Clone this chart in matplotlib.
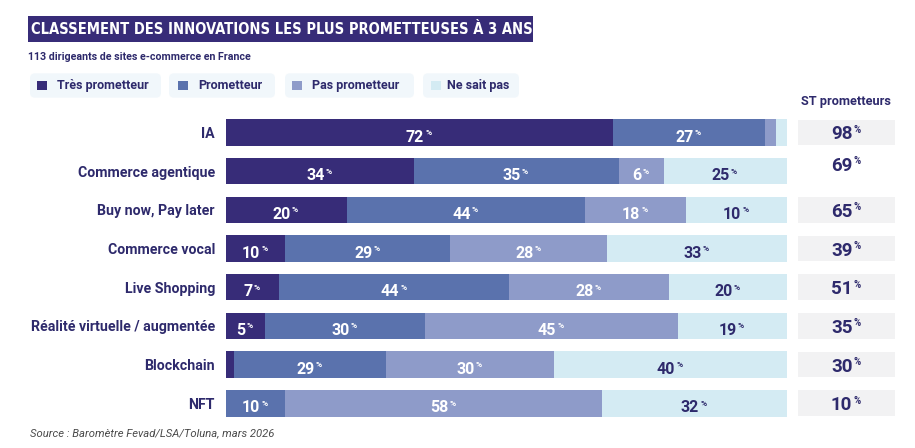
import matplotlib.pyplot as plt
from matplotlib import font_manager
from matplotlib.font_manager import FontProperties
from matplotlib.patches import FancyBboxPatch, Rectangle

W, H = 915, 448

categories = ["IA", "Commerce agentique", "Buy now, Pay later", "Commerce vocal",
              "Live Shopping", "Réalité virtuelle / augmentée", "Blockchain", "NFT"]
# segment lengths as drawn in the source (% of the bar)
tres_prometteur = [69, 33.5, 21.5, 10.5, 9.5, 7, 1.5, 0]
prometteur = [27, 36.5, 42.5, 29.5, 41, 28.5, 27, 10.5]
pas_prometteur = [2, 8, 18, 28, 28.5, 45, 30, 56.5]
ne_sait_pas = [2, 22, 18, 32, 21, 19.5, 41.5, 33]
# printed labels
tres_lbl = ["72", "34", "20", "10", "7", "5", "", ""]
prom_lbl = ["27", "35", "44", "29", "44", "30", "29", "10"]
pas_lbl = ["", "6", "18", "28", "28", "45", "30", "58"]
nsp_lbl = ["", "25", "10", "33", "20", "19", "40", "32"]
st_prometteurs = [98, 69, 65, 39, 51, 35, 30, 10]
legend_names = ["Très prometteur", "Prometteur", "Pas prometteur", "Ne sait pas"]

DARK = "#372c78"
MED = "#5a72ad"
LIGHT = "#8e9bc9"
PALE = "#d4ebf3"
NAVY = "#2e2a6c"

plt.rcParams['font.family'] = ['Roboto', 'DejaVu Sans']

# look for a narrow / condensed bold face for the title
title_prop = FontProperties(family='Roboto', weight='bold')
narrow = [f for f in font_manager.fontManager.ttflist
          if ('Narrow' in f.name or 'Condensed' in f.name or f.stretch in ('condensed', 'semi-condensed'))
          and f.weight in ('bold', 700, 'heavy', 800) and f.style == 'normal']
if narrow:
    title_prop = FontProperties(fname=narrow[0].fname)

fig = plt.figure(figsize=(W / 100, H / 100), dpi=100)

# overlay in pixel coordinates for title / legend / notes
ov = fig.add_axes([0, 0, 1, 1], zorder=0)
ov.set_xlim(0, W)
ov.set_ylim(H, 0)
ov.axis('off')

ov.add_patch(Rectangle((28, 15.8), 505, 26.2, color=DARK, lw=0))
title = ov.text(31, 29.5, "CLASSEMENT DES INNOVATIONS LES PLUS PROMETTEUSES À 3 ANS",
                color="white", va='center', ha='left', fontproperties=title_prop)
title.set_fontsize(18)
fig.canvas.draw()
bb = title.get_window_extent()
title.set_fontsize(min(18 * 499 / bb.width, 18))

ov.text(28, 57, "113 dirigeants de sites e-commerce en France", color=NAVY,
        fontsize=7.7, fontweight='bold', va='center', ha='left')

colors = [DARK, MED, LIGHT, PALE]
box_x = [(30, 161), (169, 275), (285, 414), (423, 519)]
sq_x = [37, 178, 292, 431]
txt_x = [56.7, 198.7, 312, 447]
for name, col, (x0, x1), sx, tx in zip(legend_names, colors, box_x, sq_x, txt_x):
    ov.add_patch(FancyBboxPatch((x0, 73.3), x1 - x0, 24.4,
                                boxstyle="round,pad=0,rounding_size=5",
                                fc="#f1f7fb", ec="none"))
    ov.add_patch(Rectangle((sx, 80.7), 9.5, 9.5, color=col, lw=0))
    ov.text(tx, 85.5, name, color=NAVY, fontsize=9, fontweight='bold',
            va='center', ha='left')

ov.text(846, 101, "ST prometteurs", color=NAVY, fontsize=9.2, fontweight='bold',
        va='center', ha='center')
ov.text(30, 433, "Source : Baromètre Fevad/LSA/Toluna, mars 2026", color="#4a4a4a",
        fontsize=8.1, style='italic', va='center', ha='left')

# bar axes
top_px, bot_px = 113.15, 422.65
ax_rect = [226 / W, 1 - bot_px / H, (787 - 226) / W, (bot_px - top_px) / H]
ax = fig.add_axes(ax_rect, zorder=1)
ax.patch.set_visible(False)
n = len(categories)
y = list(range(n))

series = [(tres_prometteur, tres_lbl, DARK, "white"),
          (prometteur, prom_lbl, MED, "white"),
          (pas_prometteur, pas_lbl, LIGHT, "white"),
          (ne_sait_pas, nsp_lbl, PALE, NAVY)]
left = [0] * n
for vals, lbls, col, tcol in series:
    ax.barh(y, vals, left=left, height=0.685, color=col, lw=0)
    for i, (v, l) in enumerate(zip(vals, lbls)):
        if l:
            t = ax.text(left[i] + v / 2 - 0.8, i + 0.08, l, ha='center', va='center_baseline',
                        color=tcol, fontsize=11.5, fontweight='bold')
            ax.annotate('%', xy=(1, 1), xycoords=t, xytext=(0.8, 0.5),
                        textcoords='offset points', ha='left', va='top',
                        fontsize=6, color=tcol, fontweight='bold')
    left = [a + b for a, b in zip(left, vals)]

ax.set_xlim(0, 100)
ax.set_ylim(n - 0.5, -0.5)
ax.set_yticks(y)
ax.set_yticklabels(categories, fontsize=10.2, fontweight='bold', color=NAVY)
ax.tick_params(axis='y', length=0, pad=8)
ax.set_xticks([])
for s in ax.spines.values():
    s.set_visible(False)

# ST prometteurs column
ax2 = fig.add_axes([798 / W, ax_rect[1], 97 / W, ax_rect[3]], zorder=1)
ax2.patch.set_visible(False)
ax2.set_xlim(0, 1)
ax2.set_ylim(n - 0.5, -0.5)
ax2.axis('off')
no_box = {"Commerce agentique"}
for i, (cat, v) in enumerate(zip(categories, st_prometteurs)):
    dy = 0
    if cat in no_box:
        dy = -0.19
    else:
        ax2.barh(i, 1, height=0.665, color="#f2f2f3", lw=0)
    t = ax2.text(0.45, i + dy, str(v), ha='center', va='center_baseline',
                 color=NAVY, fontsize=13.5, fontweight='bold')
    ax2.annotate('%', xy=(1, 1), xycoords=t, xytext=(1, 0.5),
                 textcoords='offset points', ha='left', va='top',
                 fontsize=7, color=NAVY, fontweight='bold')

fig.savefig("out.png", dpi=100)
